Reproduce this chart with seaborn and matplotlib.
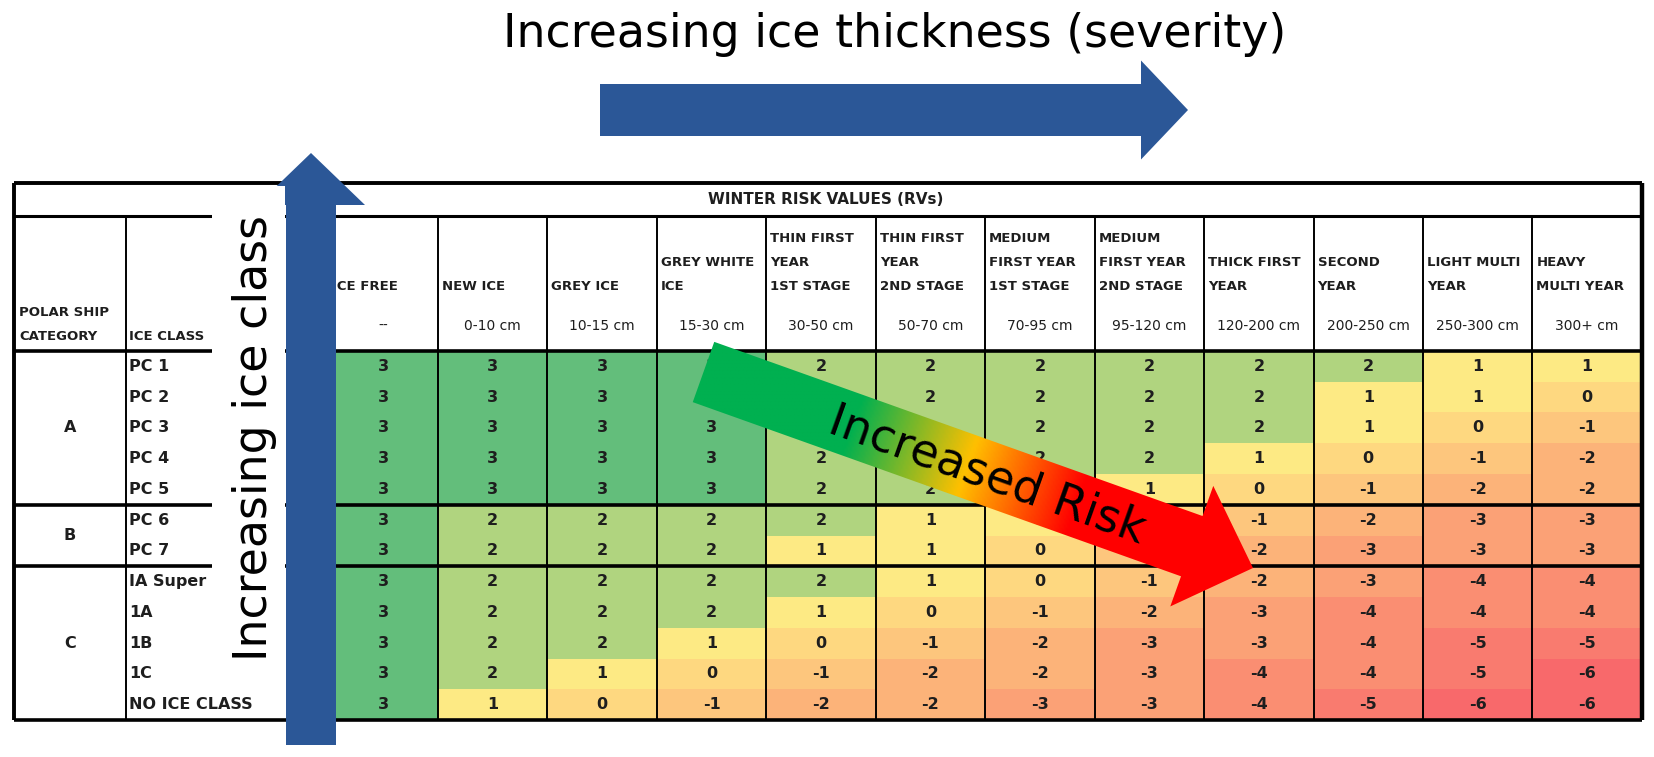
import numpy as np
import pandas as pd
import matplotlib
matplotlib.use("Agg")
import matplotlib.pyplot as plt
import matplotlib.patches as mpatches
from matplotlib.colors import LinearSegmentedColormap
import seaborn as sns

ice_classes = ['PC 1', 'PC 2', 'PC 3', 'PC 4', 'PC 5', 'PC 6', 'PC 7',
               'IA Super', '1A', '1B', '1C', 'NO ICE CLASS']
ship_categories = ['A', 'B', 'C']
category_sizes = [5, 2, 5]
ice_types = [['ICE FREE'], ['NEW ICE'], ['GREY ICE'], ['GREY WHITE', 'ICE'],
             ['THIN FIRST', 'YEAR', '1ST STAGE'], ['THIN FIRST', 'YEAR', '2ND STAGE'],
             ['MEDIUM', 'FIRST YEAR', '1ST STAGE'], ['MEDIUM', 'FIRST YEAR', '2ND STAGE'],
             ['THICK FIRST', 'YEAR'], ['SECOND', 'YEAR'], ['LIGHT MULTI', 'YEAR'],
             ['HEAVY', 'MULTI YEAR']]
thickness = ['--', '0-10 cm', '10-15 cm', '15-30 cm', '30-50 cm', '50-70 cm',
             '70-95 cm', '95-120 cm', '120-200 cm', '200-250 cm', '250-300 cm', '300+ cm']
risk_values = [
    [3, 3, 3, 3, 2, 2, 2, 2, 2, 2, 1, 1],
    [3, 3, 3, 3, 2, 2, 2, 2, 2, 1, 1, 0],
    [3, 3, 3, 3, 2, 2, 2, 2, 2, 1, 0, -1],
    [3, 3, 3, 3, 2, 2, 2, 2, 1, 0, -1, -2],
    [3, 3, 3, 3, 2, 2, 2, 1, 0, -1, -2, -2],
    [3, 2, 2, 2, 2, 1, 1, 0, -1, -2, -3, -3],
    [3, 2, 2, 2, 1, 1, 0, -1, -2, -3, -3, -3],
    [3, 2, 2, 2, 2, 1, 0, -1, -2, -3, -4, -4],
    [3, 2, 2, 2, 1, 0, -1, -2, -3, -4, -4, -4],
    [3, 2, 2, 1, 0, -1, -2, -3, -3, -4, -5, -5],
    [3, 2, 1, 0, -1, -2, -2, -3, -4, -4, -5, -6],
    [3, 1, 0, -1, -2, -2, -3, -3, -4, -5, -6, -6],
]

df = pd.DataFrame(risk_values, index=ice_classes, columns=thickness)

# figure in pixel units
W, H = 1654, 757
fig = plt.figure(figsize=(W / 100, H / 100), dpi=100)

X0, CW = 328.5, 109.45      # first value column left edge, column width
Y0, RH = 351, 30.75         # first value row top edge, row height
ncol, nrow = len(thickness), len(ice_classes)
X1, Y1 = X0 + ncol * CW, Y0 + nrow * RH
LEFT, CATX, TOP, TROW = 14, 126, 183, 216
INK = '#1e1e1e'
BLUE = '#2B5797'

# excel style 3-colour scale (red -> yellow at 1 -> green)
vmin, vmax = -6, 3
cmap = LinearSegmentedColormap.from_list(
    'rv', [(0, '#F8696B'), ((1 - vmin) / (vmax - vmin), '#FFEB84'), (1, '#63BE7B')])

ax_hm = fig.add_axes([X0 / W, 1 - Y1 / H, ncol * CW / W, nrow * RH / H])
sns.heatmap(df, ax=ax_hm, cmap=cmap, vmin=vmin, vmax=vmax, annot=True, fmt='d',
            cbar=False, xticklabels=False, yticklabels=False,
            annot_kws=dict(fontsize=11.5, fontweight='bold', color=INK))
ax_hm.vlines(np.arange(1, ncol), 0, nrow, colors='black', lw=1.4)

# overlay axes in pixel coordinates for the table frame and annotations
ax = fig.add_axes([0, 0, 1, 1])
ax.patch.set_alpha(0)
ax.set_xlim(0, W)
ax.set_ylim(H, 0)
ax.axis('off')

col_edges = X0 + CW * np.arange(ncol + 1)
group_edges = Y0 + RH * np.cumsum([0] + category_sizes)

# frame lines
ax.hlines(TOP, LEFT, X1, color='black', lw=2.8, zorder=1)
ax.hlines(TROW, LEFT, X1, color='black', lw=2.2, zorder=1)
ax.hlines(group_edges, LEFT, X1, color='black', lw=2.6, zorder=1)
ax.vlines([LEFT], TOP, Y1, color='black', lw=2.8, zorder=1)
ax.vlines([X1], TOP, Y1, color='black', lw=3.2, zorder=1)
ax.vlines([CATX], TROW, Y1, color='black', lw=1.4, zorder=1)
ax.vlines(col_edges[:-1], TROW, Y0, color='black', lw=1.4, zorder=1)

txt = dict(color=INK, family='DejaVu Sans', zorder=1)
ax.text((X0 + X1) / 2 - 160, 199, 'WINTER RISK VALUES (RVs)', ha='center', va='center',
        fontsize=11, fontweight='bold', **txt)
ax.text(19, 313, 'POLAR SHIP', ha='left', va='center', fontsize=9.5, fontweight='bold', **txt)
ax.text(19, 337, 'CATEGORY', ha='left', va='center', fontsize=9.5, fontweight='bold', **txt)
ax.text(CATX + 3, 337, 'ICE CLASS', ha='left', va='center', fontsize=9.5, fontweight='bold', **txt)

for j, (lines, th) in enumerate(zip(ice_types, thickness)):
    xl = col_edges[j]
    for k, line in enumerate(lines):
        y = 287 - (len(lines) - 1 - k) * 24.5
        ax.text(xl + 4, y, line, ha='left', va='center', fontsize=9.5,
                fontweight='bold', **txt)
    ax.text(xl + CW / 2, 326, th, ha='center', va='center', fontsize=10, **txt)

for i, name in enumerate(ice_classes):
    ax.text(CATX + 3, Y0 + (i + 0.5) * RH, name, ha='left', va='center',
            fontsize=11.5, fontweight='bold', **txt)
for g, cat in enumerate(ship_categories):
    ax.text((LEFT + CATX) / 2, (group_edges[g] + group_edges[g + 1]) / 2, cat,
            ha='center', va='center', fontsize=11.5, fontweight='bold', **txt)

# white box behind the vertical label
ax.add_patch(mpatches.Rectangle((212, 186), 73, 509, facecolor='white',
                                edgecolor='none', zorder=3))

# vertical arrow (increasing ice class)
ax.add_patch(mpatches.FancyArrow(311, 745, 0, -592, width=50, head_width=108,
                                 head_length=52, length_includes_head=True,
                                 color=BLUE, lw=0, zorder=2))
ax.text(267, 438, 'Increasing ice class', rotation=90, rotation_mode='anchor',
        ha='center', va='baseline', fontsize=33, color='black', zorder=4)

# horizontal arrow (increasing thickness)
ax.add_patch(mpatches.FancyArrow(600, 110, 588, 0, width=52, head_width=99,
                                 head_length=47, length_includes_head=True,
                                 color=BLUE, lw=0, zorder=2))
ax.text(895, 47, 'Increasing ice thickness (severity)', ha='center', va='baseline',
        fontsize=33, color='black')

# gradient "Increased Risk" arrow
tx, ty, dx, dy = 703.5, 372, 549.5, 196
risk_arrow = mpatches.FancyArrow(tx, ty, dx, dy, width=64, head_width=128,
                                 head_length=65, length_includes_head=True,
                                 facecolor='none', edgecolor='none', zorder=5)
ax.add_patch(risk_arrow)
L = np.hypot(dx, dy)
ux, uy = dx / L, dy / L
gx, gy = np.meshgrid(np.linspace(640, 1280, 400), np.linspace(320, 630, 200))
s = np.clip(((gx - tx) * ux + (gy - ty) * uy) / L, 0, 1)
grad = LinearSegmentedColormap.from_list(
    'risk', [(0, '#00B050'), (0.27, '#00B050'), (0.48, '#FFC000'),
             (0.68, '#FF0000'), (1, '#FF0000')])
im = ax.imshow(grad(s), extent=(640, 1280, 630, 320), origin='upper',
               aspect='auto', interpolation='bilinear', zorder=5)
im.set_clip_path(risk_arrow)
ang = np.degrees(np.arctan2(dy, dx))
ax.text(983, 487, 'Increased Risk', rotation=-ang, rotation_mode='anchor',
        ha='center', va='baseline', fontsize=33, color='black', zorder=6)

ax.set_xlim(0, W)
ax.set_ylim(H, 0)

fig.savefig('out.png', dpi=100, facecolor='white')
